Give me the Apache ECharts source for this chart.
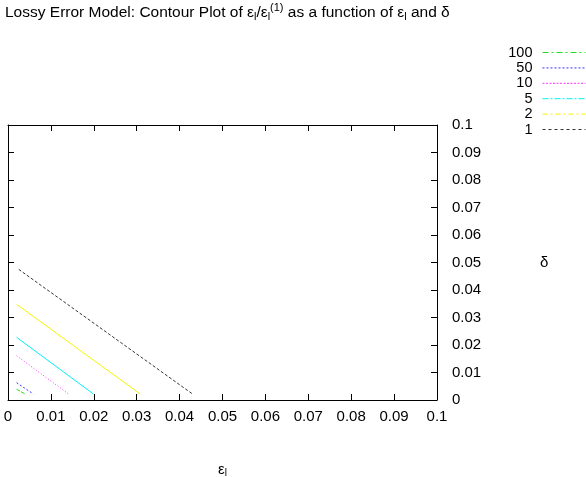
<!DOCTYPE html>
<html>
<head>
<meta charset="utf-8">
<script src="https://cdn.jsdelivr.net/npm/echarts@6/dist/echarts.min.js"></script>
<style>
  html, body { margin: 0; padding: 0; background: #fff; }
  #chart { width: 586px; height: 477px; }
</style>
</head>
<body>
<div id="chart"></div>
<script>
// contour levels (legend order) and their lines, [eps_l, delta]
var levels = ['100', '50', '10', '5', '2', '1']
var c100 = [[0.002, 0.0039], [0.004, 0.0022]]
var c50 = [[0.002, 0.0063], [0.0059, 0.0022]]
var c10 = [[0.002, 0.0161], [0.0141, 0.0022]]
var c5 = [[0.002, 0.0228], [0.0199, 0.0022]]
var c2 = [[0.002, 0.0348], [0.0308, 0.0022]]
var c1 = [[0.0025, 0.0475], [0.043, 0.0022]]

var lineData = [c100, c50, c10, c5, c2, c1]
var colors = ['#22dd22', '#3333ff', '#ff33ff', '#00f0f0', '#f4f400', '#333333']
// dash pattern inside the plot and in the legend key
var plotDash = [[4, 1], [2, 2], [1, 2], 'solid', 'solid', [3, 2]]
var keyDash = [[6, 3, 2, 3], [2, 2], [2, 1.5], [6, 2, 2, 2], [5, 3, 2, 3], [3, 3]]

var font = 'Liberation Sans, Arial, sans-serif'
var chart = echarts.init(document.getElementById('chart'))

var series = []
var legendData = []
for (var i = 0; i < levels.length; i++) {
  series.push({
    name: levels[i],
    type: 'line',
    xAxisIndex: 0,
    yAxisIndex: 0,
    symbol: 'none',
    data: lineData[i],
    lineStyle: { color: colors[i], width: 1, type: plotDash[i] },
    itemStyle: { color: colors[i] }
  })
  legendData.push({
    name: levels[i],
    lineStyle: { color: colors[i], width: 1, type: keyDash[i] },
    itemStyle: { opacity: 0 }
  })
}

function tickLabel (v) {
  return String(+v.toFixed(2))
}

var axisCommon = {
  type: 'value',
  min: 0,
  max: 0.1,
  interval: 0.01,
  splitLine: { show: false },
  axisLine: { show: true, onZero: false, lineStyle: { color: '#000', width: 1 } },
  axisTick: { show: true, inside: true, length: 6, lineStyle: { color: '#000' } }
}

chart.setOption({
  animation: false,
  title: {
    left: 0,
    top: -3,
    text: 'Lossy Error Model: Contour Plot of {t|ε}{s|l}{t|/ε}{s|l}{p|(1)}{t| as a function of ε}{s|l}{t| and δ}',
    textStyle: {
      fontFamily: font,
      fontSize: 15.5,
      fontWeight: 'normal',
      color: '#000',
      rich: {
        t: { fontFamily: font, fontSize: 15.5, color: '#000', lineHeight: 22, verticalAlign: 'middle' },
        s: { fontFamily: font, fontSize: 11, color: '#000', lineHeight: 22, verticalAlign: 'bottom', padding: [0, 0, 2, 0] },
        p: { fontFamily: font, fontSize: 11, color: '#000', lineHeight: 22, verticalAlign: 'top', padding: [0, 0, 0, 0] }
      }
    }
  },
  legend: {
    orient: 'vertical',
    right: 0,
    top: 45,
    padding: 0,
    align: 'right',
    itemWidth: 43,
    itemHeight: 14,
    itemGap: 0.4,
    data: legendData,
    formatter: '{a|{name}}',
    textStyle: {
      rich: {
        a: { fontFamily: font, fontSize: 14.5, lineHeight: 14, color: '#000', width: 30, align: 'right', padding: [0, 5, 0, 0] }
      }
    }
  },
  grid: { left: 8, right: 149, top: 125, bottom: 77, outerBoundsMode: 'none', containLabel: false },
  xAxis: [
    Object.assign({}, axisCommon, {
      position: 'bottom',
      name: '{g|ε}{s|l}',
      nameLocation: 'middle',
      nameGap: 62,
      nameTextStyle: {
        rich: {
          g: { fontFamily: font, fontSize: 15, color: '#000' },
          s: { fontFamily: font, fontSize: 10, color: '#000', padding: [6, 0, 0, 0] }
        }
      },
      axisLabel: { formatter: tickLabel, margin: 9, fontFamily: font, fontSize: 15, color: '#000' }
    }),
    Object.assign({}, axisCommon, {
      position: 'top',
      axisLabel: { show: false }
    })
  ],
  yAxis: [
    Object.assign({}, axisCommon, {
      position: 'right',
      name: 'δ',
      nameLocation: 'middle',
      nameRotate: 0,
      nameGap: 103,
      nameTextStyle: { fontFamily: font, fontSize: 15, color: '#000', padding: [10, 0, 0, 0] },
      axisLabel: { formatter: tickLabel, margin: 15, fontFamily: font, fontSize: 15, color: '#000' }
    }),
    Object.assign({}, axisCommon, {
      position: 'left',
      axisLabel: { show: false }
    })
  ],
  series: series
})
</script>
</body>
</html>
